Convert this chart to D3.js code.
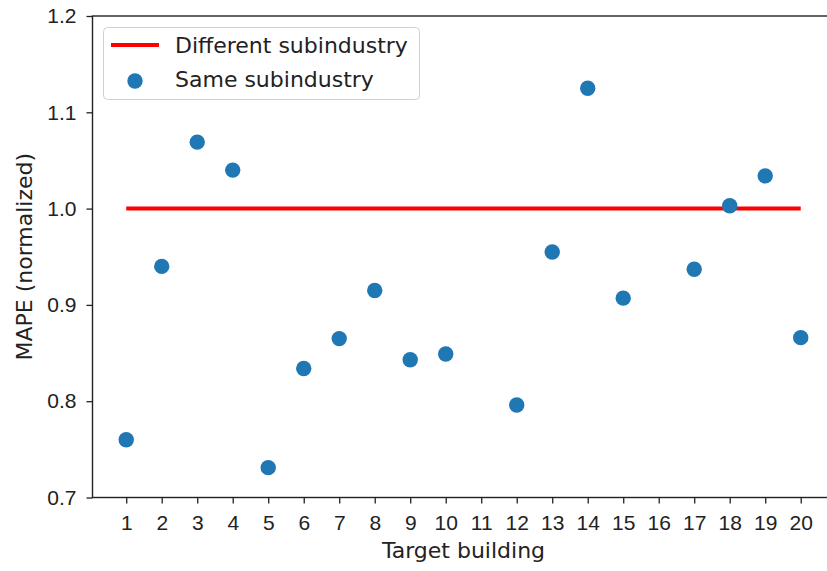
<!DOCTYPE html>
<html>
<head>
<meta charset="utf-8">
<script src="https://cdn.jsdelivr.net/npm/d3@7"></script>
<style>
  body { margin: 0; background: #fff; }
  svg { font-family: "DejaVu Sans", sans-serif; }
</style>
</head>
<body>
<div id="chart"></div>
<script>
// building index and normalized MAPE when trained on same subindustry
var buildings = [1, 2, 3, 4, 5, 6, 7, 8, 9, 10, 12, 13, 14, 15, 17, 18, 19, 20];
var sameValues = [0.760, 0.940, 1.069, 1.040, 0.731, 0.834, 0.865, 0.915, 0.843, 0.849,
                  0.796, 0.955, 1.125, 0.907, 0.937, 1.003, 1.034, 0.866];
var diffLine = [[1, 1.0], [20, 1.0]];
var xTicks = d3.range(1, 21);
var yTicks = [0.7, 0.8, 0.9, 1.0, 1.1, 1.2];

var width = 827, height = 571;
var plotLeft = 92.5, plotTop = 16, plotBottom = 497.5;

var svg = d3.select('#chart').append('svg')
    .attr('width', width)
    .attr('height', height);

// x limits as matplotlib would pad them
var x = d3.scaleLinear().domain([0.05, 20.95]).range([plotLeft, plotLeft + 20.9 * 35.5]);
var y = d3.scaleLinear().domain([0.7, 1.2]).range([plotBottom, plotTop]);

// axes
var xAxis = svg.append('g')
    .attr('transform', 'translate(0,' + plotBottom + ')')
    .call(d3.axisBottom(x).tickValues(xTicks).tickSize(6).tickPadding(12).tickFormat(d3.format('d')));
var yAxis = svg.append('g')
    .attr('transform', 'translate(' + plotLeft + ',0)')
    .call(d3.axisLeft(y).tickValues(yTicks).tickSize(6).tickPadding(10).tickFormat(d3.format('.1f')));

[xAxis, yAxis].forEach(function(a) {
    a.select('.domain').remove();
    a.selectAll('line').attr('stroke', '#222').attr('stroke-width', 1.3);
    a.selectAll('text').attr('fill', '#222').style('font-size', '21px');
});

// spines
svg.append('rect')
    .attr('x', plotLeft).attr('y', plotTop)
    .attr('width', x(20.95) - plotLeft).attr('height', plotBottom - plotTop)
    .attr('fill', 'none').attr('stroke', '#222').attr('stroke-width', 1.4);

// red reference line
svg.append('path')
    .datum(diffLine)
    .attr('fill', 'none')
    .attr('stroke', '#ff0000')
    .attr('stroke-width', 4)
    .attr('d', d3.line().x(function(d) { return x(d[0]); }).y(function(d) { return y(d[1]); }));

// scatter points
svg.append('g').selectAll('circle')
    .data(buildings)
    .enter()
    .append('circle')
    .attr('cx', function(d) { return x(d); })
    .attr('cy', function(d, i) { return y(sameValues[i]); })
    .attr('r', 7.7)
    .attr('fill', '#1f77b4');

// axis labels
svg.append('text')
    .attr('x', x(10.5)).attr('y', 558)
    .attr('text-anchor', 'middle')
    .style('font-size', '22px').attr('fill', '#222')
    .text('Target building');

svg.append('text')
    .attr('transform', 'translate(32,' + ((plotTop + plotBottom) / 2) + ') rotate(-90)')
    .attr('text-anchor', 'middle')
    .style('font-size', '22px').attr('fill', '#222')
    .text('MAPE (normalized)');

// legend
var legend = svg.append('g');
legend.append('rect')
    .attr('x', 103.5).attr('y', 27.5).attr('width', 316).attr('height', 72)
    .attr('rx', 4)
    .attr('fill', '#fff').attr('fill-opacity', 0.8)
    .attr('stroke', '#d0d0d0').attr('stroke-width', 1);
legend.append('line')
    .attr('x1', 111).attr('x2', 159).attr('y1', 45).attr('y2', 45)
    .attr('stroke', '#ff0000').attr('stroke-width', 4);
legend.append('circle')
    .attr('cx', 135).attr('cy', 81).attr('r', 7.7).attr('fill', '#1f77b4');
legend.append('text')
    .attr('x', 175).attr('y', 53)
    .style('font-size', '22px').attr('fill', '#222')
    .text('Different subindustry');
legend.append('text')
    .attr('x', 175).attr('y', 87)
    .style('font-size', '22px').attr('fill', '#222')
    .text('Same subindustry');
</script>
</body>
</html>
